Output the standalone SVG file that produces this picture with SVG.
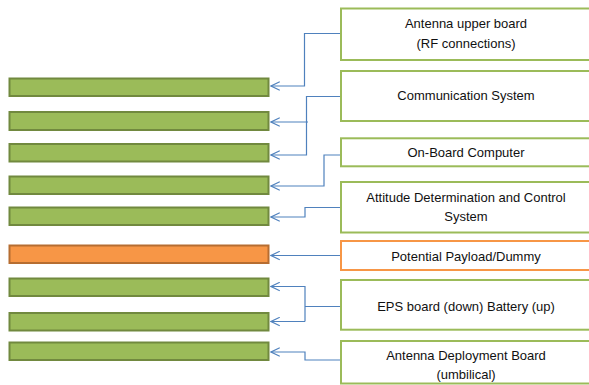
<svg xmlns="http://www.w3.org/2000/svg" width="589" height="385" viewBox="0 0 589 385">
<style>
.bar{fill:#9BBB59;stroke:#71893F;stroke-width:2}
.bar.o{fill:#F79646;stroke:#B66D31}
.box{fill:#fff;stroke:#9BBB59;stroke-width:2}
.box.o{stroke:#F79646}
.t{font-family:"Liberation Sans",Arial,sans-serif;font-size:13px;fill:#111;text-anchor:middle}
.c{fill:none;stroke:#4F81BD;stroke-width:1.2}
</style>
<defs>
<marker id="ah" viewBox="0 0 10 10" refX="9.3" refY="5" markerWidth="10" markerHeight="10" markerUnits="userSpaceOnUse" orient="auto">
<path d="M0.5,0.8 L9.3,5 L0.5,9.2" fill="none" stroke="#4F81BD" stroke-width="1.2"/>
</marker>
</defs>
<rect width="589" height="385" fill="#fff"/>
<g id="bars">
<g id="bar1"><rect class="bar" x="9.5" y="78.5" width="259" height="17.5"/></g>
<g id="bar2"><rect class="bar" x="9.5" y="112" width="259" height="18"/></g>
<g id="bar3"><rect class="bar" x="9.5" y="144" width="259" height="17.5"/></g>
<g id="bar4"><rect class="bar" x="9.5" y="176.5" width="259" height="17.5"/></g>
<g id="bar5"><rect class="bar" x="9.5" y="207.5" width="259" height="17.5"/></g>
<g id="bar6"><rect class="bar o" x="9.5" y="245.5" width="259" height="17.5"/></g>
<g id="bar7"><rect class="bar" x="9.5" y="278.5" width="259" height="17.5"/></g>
<g id="bar8"><rect class="bar" x="9.5" y="313" width="259" height="17.5"/></g>
<g id="bar9"><rect class="bar" x="9.5" y="342.5" width="259" height="17.5"/></g>
</g>
<g id="n-antenna-upper"><rect class="box" x="341" y="8.5" width="260" height="51.5"/>
<text class="t" x="466" y="28">Antenna upper board</text><text class="t" x="466" y="47.5">(RF connections)</text></g>
<g id="n-comm"><rect class="box" x="341" y="71" width="260" height="50"/>
<text class="t" x="466" y="100">Communication System</text></g>
<g id="n-obc"><rect class="box" x="341" y="138.3" width="260" height="28"/>
<text class="t" x="466" y="157">On-Board Computer</text></g>
<g id="n-adcs"><rect class="box" x="341" y="182" width="260" height="50.5"/>
<text class="t" x="466" y="201.5">Attitude Determination and Control</text><text class="t" x="466" y="220.5">System</text></g>
<g id="n-payload"><rect class="box o" x="341" y="241" width="260" height="29"/>
<text class="t" x="466" y="260.5">Potential Payload/Dummy</text></g>
<g id="n-eps"><rect class="box" x="341" y="280" width="260" height="49.7"/>
<text class="t" x="466" y="310.5">EPS board (down) Battery (up)</text></g>
<g id="n-adb"><rect class="box" x="341" y="341" width="260" height="42.5"/>
<text class="t" x="466" y="359.5">Antenna Deployment Board</text><text class="t" x="466" y="378.5">(umbilical)</text></g>
<g id="connectors">
<path class="c" d="M340,33.5 H304.5 V86 H271" marker-end="url(#ah)"/>
<path class="c" d="M340,96.5 H306.5 V155 H271" marker-end="url(#ah)"/>
<path class="c" d="M308,122 H271" marker-end="url(#ah)"/>
<path class="c" d="M340,155 H324 V186 H271" marker-end="url(#ah)"/>
<path class="c" d="M340,207.5 H305 V217 H271" marker-end="url(#ah)"/>
<path class="c" d="M340,255.5 H271" marker-end="url(#ah)"/>
<path class="c" d="M340,306.5 H305"/>
<path class="c" d="M305,321.5 V286.5 H271" marker-end="url(#ah)"/>
<path class="c" d="M305,321.5 H271" marker-end="url(#ah)"/>
<path class="c" d="M340,360 H305 V352 H271" marker-end="url(#ah)"/>
</g>
</svg>
